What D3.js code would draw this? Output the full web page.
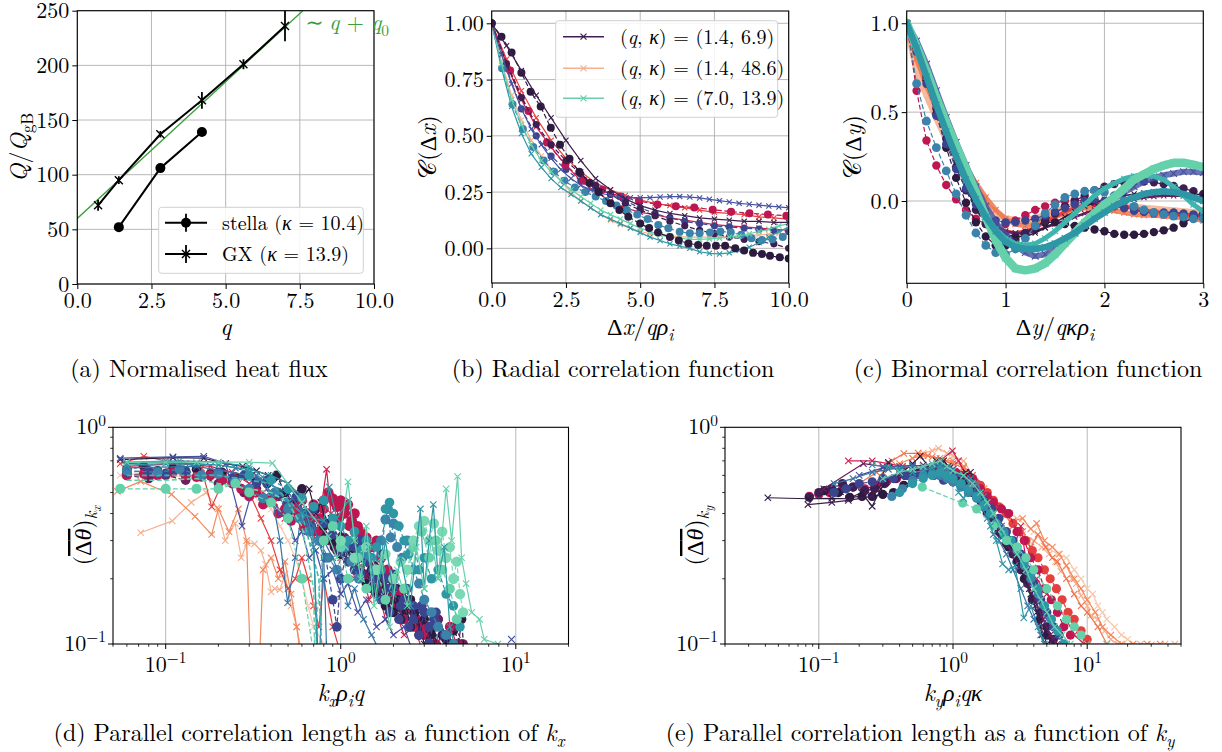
<!DOCTYPE html>
<html><head><meta charset="utf-8">
<script src="https://cdn.jsdelivr.net/npm/d3@7"></script>
<style>
body{margin:0;background:#fff;}
svg{display:block;background:#fff;}
</style></head><body>
<svg id="fig" width="1222" height="752"></svg>
<script>
// ================= DATA =================
// (a) heat flux
const qStella = [1.4, 2.8, 4.2];
const QStella = [52, 106, 139];
const errStella = [1.5, 1.5, 1.5];
const qGX = [0.7, 1.4, 2.8, 4.2, 5.6, 7.0];
const QGX = [72, 95, 137, 168, 201, 236];
const errGX = [5, 3.5, 3, 7.6, 4.5, 14];
const fitQ = [0, 7.6];
const fitVal = [60, 250];
const aXTicks = [0, 2.5, 5, 7.5, 10];
const aYTicks = [0, 50, 100, 150, 200, 250];

// (b) radial correlation function
const bX05 = [0,0.5,1,1.5,2,2.5,3,3.5,4,4.5,5,5.5,6,6.5,7,7.5,8,8.5,9,9.5,10];
const bX33 = [0,0.33,0.67,1,1.33,1.67,2,2.33,2.67,3,3.33,3.67,4,4.33,4.67,5,5.33,5.67,6,6.33,6.67,7,7.33,7.67,8,8.33,8.67,9,9.33,9.67,10];
const bGxDark = [1.0,0.9,0.79,0.68,0.58,0.48,0.39,0.31,0.26,0.22,0.19,0.17,0.155,0.145,0.135,0.13,0.125,0.12,0.12,0.115,0.115];
const bStDarkX = [0,0.33,0.67,1.0,1.31,1.65,1.99,2.3,2.62,2.95,3.3,3.6,4.0,4.3,4.6,5.0,5.3,5.6,6.0,6.3,6.62,6.95,7.24,7.55,7.86,8.2,8.5,8.8,9.1,9.37,9.7,10.0];
const bStDark = [1.0,0.94,0.87,0.78,0.696,0.63,0.536,0.46,0.398,0.34,0.29,0.25,0.2,0.17,0.14,0.11,0.09,0.07,0.05,0.035,0.022,0.015,0.012,0.012,0.012,0.0,-0.01,-0.02,-0.025,-0.033,-0.04,-0.045];
const bStDark2 = [1.0,0.82,0.67,0.55,0.46,0.39,0.33,0.28,0.24,0.2,0.17,0.145,0.12,0.1,0.08,0.065,0.05,0.04,0.03,0.02,0.0];
const bGxNavy = [1.0,0.86,0.73,0.62,0.53,0.46,0.4,0.35,0.31,0.28,0.26,0.245,0.235,0.23,0.225,0.225,0.225,0.228,0.23,0.23,0.228,0.224,0.218,0.212,0.206,0.2,0.196,0.192,0.188,0.184,0.18];
const bStCrimsonX = [0,0.62,1.24,1.86,2.48,3.1,3.72,4.34,4.96,5.58,6.2,6.82,7.44,8.06,8.68,9.3,9.92];
const bStCrimson = [1.0,0.79,0.61,0.47,0.37,0.3,0.26,0.23,0.21,0.195,0.187,0.181,0.172,0.163,0.156,0.15,0.145];
const bGxRed = [1.0,0.84,0.7,0.58,0.48,0.4,0.34,0.29,0.26,0.235,0.215,0.2,0.19,0.18,0.17,0.16,0.155,0.15,0.14,0.135,0.13];
const bGxCrimson = [1.0,0.82,0.66,0.54,0.45,0.37,0.3,0.25,0.21,0.18,0.16,0.15,0.135,0.125,0.115,0.105,0.1,0.095,0.09,0.085,0.08];
const bGxPeach = [1.0,0.83,0.68,0.57,0.48,0.41,0.35,0.3,0.25,0.21,0.18,0.15,0.125,0.105,0.09,0.075,0.065,0.06,0.055,0.052,0.05,0.05,0.05,0.05,0.052,0.055,0.058,0.06,0.062,0.065,0.068];
const bGxMint = [1.0,0.82,0.66,0.55,0.46,0.39,0.34,0.3,0.26,0.23,0.2,0.17,0.15,0.13,0.11,0.09,0.075,0.06,0.05,0.045,0.04,0.04,0.042,0.045,0.05,0.055,0.065,0.075,0.085,0.1,0.11];
const bGxTeal = [1.0,0.8,0.63,0.51,0.42,0.36,0.31,0.27,0.24,0.21,0.18,0.15,0.13,0.11,0.09,0.07,0.05,0.035,0.02,0.01,0.0,-0.015,-0.022,-0.025,-0.02,-0.01,0.005,0.025,0.05,0.075,0.095];
const bStSteelX = [0,0.35,0.7,1.05,1.4,1.75,2.1,2.45,2.8,3.15,3.5,3.85,4.2,4.55,4.9,5.25,5.61,5.95,6.33,6.67,7.0,7.35,7.7,8.05,8.4,8.75,9.1,9.45,9.8];
const bStSteel = [1.0,0.8,0.64,0.53,0.45,0.39,0.34,0.3,0.27,0.25,0.23,0.21,0.19,0.17,0.15,0.13,0.104,0.089,0.074,0.067,0.067,0.07,0.075,0.072,0.06,0.045,0.037,0.04,0.05];
const bStNavy = [1.0,0.8,0.62,0.5,0.41,0.35,0.3,0.27,0.24,0.21,0.18,0.155,0.135,0.12,0.11,0.1,0.095,0.09,0.085,0.08,0.075];
const bXTicks = [0, 2.5, 5, 7.5, 10];
const bYTicks = [0, 0.25, 0.5, 0.75, 1.0];
const bLegend = ["(1.4, 6.9)", "(1.4, 48.6)", "(7.0, 13.9)"];

// (c) binormal correlation function
const cX = [0,0.1,0.2,0.3,0.4,0.5,0.6,0.7,0.8,0.9,1.0,1.1,1.2,1.3,1.4,1.5,1.6,1.7,1.8,1.9,2.0,2.1,2.2,2.3,2.4,2.5,2.6,2.7,2.8,2.9,3.0];
const cMint = [1.0,0.87,0.73,0.58,0.44,0.31,0.18,0.05,-0.09,-0.22,-0.32,-0.38,-0.39,-0.38,-0.35,-0.3,-0.24,-0.18,-0.12,-0.07,-0.02,0.02,0.07,0.12,0.15,0.18,0.2,0.215,0.215,0.205,0.19];
const cTeal = [1.0,0.86,0.7,0.54,0.39,0.25,0.12,0.01,-0.09,-0.17,-0.23,-0.26,-0.27,-0.27,-0.26,-0.24,-0.21,-0.18,-0.14,-0.1,-0.065,-0.03,0.0,0.02,0.04,0.05,0.055,0.05,0.04,0.02,0.0];
const cTeal2 = [1.0,0.87,0.72,0.56,0.41,0.27,0.14,0.02,-0.08,-0.16,-0.21,-0.24,-0.25,-0.24,-0.21,-0.17,-0.12,-0.07,-0.02,0.03,0.07,0.1,0.125,0.14,0.145,0.14,0.12,0.08,0.03,-0.02,-0.06];
const cNavy = [1.0,0.9,0.77,0.62,0.47,0.33,0.2,0.08,-0.03,-0.12,-0.19,-0.25,-0.29,-0.31,-0.3,-0.27,-0.23,-0.18,-0.13,-0.08,-0.03,0.01,0.05,0.08,0.11,0.13,0.145,0.155,0.165,0.165,0.16];
const cDarkGx = [1.0,0.88,0.72,0.55,0.38,0.22,0.08,-0.04,-0.12,-0.17,-0.19,-0.2,-0.2,-0.18,-0.15,-0.12,-0.09,-0.06,-0.03,-0.01,0.01,0.02,0.03,0.04,0.045,0.05,0.05,0.05,0.045,0.04,0.035];
const cDarkSt1 = [1.0,0.86,0.68,0.49,0.3,0.13,-0.01,-0.12,-0.2,-0.25,-0.25,-0.22,-0.18,-0.14,-0.12,-0.12,-0.13,-0.14,-0.15,-0.16,-0.17,-0.185,-0.19,-0.19,-0.185,-0.175,-0.165,-0.15,-0.125,-0.09,-0.06];
const cDarkSt2 = [1.0,0.87,0.7,0.52,0.35,0.19,0.06,-0.05,-0.13,-0.18,-0.2,-0.2,-0.18,-0.15,-0.11,-0.07,-0.03,0.0,0.03,0.06,0.08,0.095,0.105,0.11,0.11,0.105,0.095,0.085,0.07,0.055,0.04];
const cCrimsonSt = [1.0,0.62,0.34,0.2,0.09,0.01,-0.05,-0.1,-0.13,-0.14,-0.13,-0.11,-0.08,-0.05,-0.03,-0.01,0.0,0.005,0.0,-0.01,-0.02,-0.03,-0.04,-0.05,-0.06,-0.07,-0.075,-0.08,-0.085,-0.09,-0.09];
const cSteelSt = [1.0,0.66,0.45,0.3,0.17,0.04,-0.08,-0.18,-0.25,-0.29,-0.3,-0.27,-0.21,-0.14,-0.07,-0.02,0.02,0.04,0.055,0.06,0.05,0.03,0.0,-0.03,-0.05,-0.065,-0.075,-0.085,-0.09,-0.1,-0.1];
const cNavySt = [1.0,0.84,0.66,0.48,0.32,0.18,0.07,-0.02,-0.08,-0.11,-0.12,-0.12,-0.11,-0.1,-0.08,-0.06,-0.04,-0.02,0.0,0.01,0.0,-0.02,-0.04,-0.055,-0.06,-0.065,-0.065,-0.065,-0.07,-0.075,-0.08];
const cPeachGx = [1.0,0.74,0.6,0.47,0.35,0.24,0.14,0.05,-0.02,-0.07,-0.1,-0.11,-0.11,-0.1,-0.08,-0.06,-0.04,-0.03,-0.02,-0.02,-0.02,-0.025,-0.03,-0.035,-0.04,-0.045,-0.05,-0.055,-0.06,-0.065,-0.07];
const cOrangeGx = [1.0,0.8,0.65,0.52,0.4,0.29,0.19,0.1,0.02,-0.05,-0.1,-0.13,-0.14,-0.13,-0.11,-0.09,-0.07,-0.05,-0.04,-0.04,-0.045,-0.055,-0.065,-0.075,-0.08,-0.08,-0.085,-0.09,-0.095,-0.1,-0.11];
const cRedGx = [1.0,0.85,0.68,0.52,0.37,0.23,0.11,0.0,-0.08,-0.14,-0.17,-0.18,-0.17,-0.15,-0.12,-0.09,-0.06,-0.04,-0.02,-0.01,-0.01,-0.02,-0.03,-0.04,-0.05,-0.06,-0.065,-0.07,-0.075,-0.08,-0.08];
const cPlumGx = [1.0,0.88,0.72,0.55,0.39,0.24,0.1,-0.01,-0.09,-0.14,-0.17,-0.18,-0.18,-0.17,-0.15,-0.13,-0.11,-0.09,-0.07,-0.05,-0.03,-0.01,0.0,0.01,0.02,0.025,0.03,0.03,0.03,0.025,0.02];
const cXTicks = [0, 1, 2, 3];
const cYTicks = [0, 0.5, 1.0];

// (d) parallel correlation length vs kx  ([k, value] pairs)
const dDarkGx = [[0.055,0.71],[0.11,0.725],[0.165,0.72],[0.22,0.68],[0.275,0.66],[0.33,0.63],[0.385,0.6],[0.44,0.58],[0.5,0.55],[0.55,0.5],[0.6,0.47],[0.66,0.52],[0.72,0.4],[0.77,0.45],[0.83,0.35],[0.88,0.38],[0.94,0.3],[1.0,0.33],[1.1,0.26],[1.2,0.3],[1.3,0.22],[1.4,0.25],[1.5,0.19],[1.65,0.23],[1.8,0.17],[1.95,0.2],[2.1,0.14],[2.3,0.17],[2.5,0.12],[2.7,0.14],[3.0,0.1],[3.3,0.12],[3.6,0.08]];
const dDarkSt = [[0.06,0.64],[0.075,0.66],[0.09,0.63],[0.11,0.65],[0.13,0.62],[0.15,0.64],[0.18,0.61],[0.21,0.62],[0.25,0.59],[0.29,0.6],[0.33,0.56],[0.38,0.55],[0.43,0.6],[0.48,0.5],[0.54,0.45],[0.6,0.52],[0.66,0.38],[0.72,0.42],[0.78,0.32],[0.85,0.36],[0.92,0.28],[1.0,0.3],[1.1,0.24],[1.2,0.27],[1.32,0.21],[1.45,0.24],[1.6,0.18],[1.75,0.21],[1.9,0.16],[2.1,0.18],[2.3,0.14],[2.5,0.16],[2.75,0.12],[3.0,0.14],[3.3,0.11],[3.6,0.13],[4.0,0.105],[4.4,0.115],[4.9,0.1]];
const dDark2St = [[0.8,0.35],[0.9,0.3],[1.0,0.26],[1.1,0.3],[1.2,0.22],[1.3,0.25],[1.4,0.19],[1.5,0.22],[1.6,0.17],[1.7,0.2],[1.8,0.15],[1.9,0.18],[2.0,0.14],[2.1,0.16],[2.2,0.13],[2.35,0.15],[2.5,0.12],[2.65,0.14],[2.8,0.11],[3.0,0.13],[3.2,0.1],[3.4,0.12],[3.6,0.09],[3.8,0.11],[4.0,0.08],[4.3,0.1],[4.6,0.085],[4.9,0.13],[5.2,0.07]];
const dPlumSt = [[0.06,0.6],[0.08,0.58],[0.1,0.6],[0.13,0.57],[0.16,0.59],[0.2,0.55],[0.24,0.56],[0.28,0.5],[0.33,0.52],[0.38,0.46],[0.44,0.48],[0.5,0.4],[0.56,0.43],[0.62,0.36],[0.7,0.33],[0.78,0.38],[0.86,0.3],[0.95,0.27],[1.05,0.31],[1.15,0.24],[1.27,0.27],[1.4,0.21],[1.55,0.23],[1.7,0.18],[1.9,0.2],[2.1,0.16],[2.35,0.18],[2.6,0.14],[2.9,0.15],[3.2,0.12],[3.6,0.13],[4.0,0.11],[4.5,0.12],[5.0,0.1]];
const dCrimsonSt = [[0.06,0.6],[0.075,0.61],[0.09,0.6],[0.11,0.62],[0.13,0.6],[0.15,0.59],[0.18,0.6],[0.21,0.57],[0.24,0.55],[0.27,0.52],[0.3,0.48],[0.33,0.5],[0.36,0.44],[0.4,0.46],[0.44,0.4],[0.48,0.42],[0.52,0.37],[0.57,0.4],[0.62,0.35],[0.68,0.38],[0.74,0.33],[0.8,0.42],[0.86,0.48],[0.92,0.45],[0.98,0.38],[1.05,0.42],[1.12,0.35],[1.2,0.33],[1.28,0.3],[1.38,0.27],[1.48,0.25],[1.6,0.22],[1.75,0.2],[1.9,0.17],[2.1,0.15],[2.3,0.13],[2.6,0.12],[3.0,0.11],[3.5,0.1],[4.2,0.12],[4.6,0.1]];
const dCrimson2St = [[0.5,0.45],[0.55,0.42],[0.6,0.46],[0.65,0.4],[0.7,0.44],[0.75,0.38],[0.8,0.46],[0.85,0.5],[0.9,0.47],[0.95,0.43],[1.0,0.46],[1.05,0.4],[1.1,0.44],[1.15,0.37],[1.2,0.4],[1.25,0.35],[1.3,0.33],[1.4,0.31],[1.5,0.28],[1.6,0.3],[1.7,0.25],[1.85,0.22],[2.0,0.2],[2.2,0.17],[2.4,0.15],[2.7,0.13],[3.0,0.12]];
const dCrimsonGx = [[0.06,0.66],[0.12,0.68],[0.18,0.66],[0.24,0.62],[0.3,0.55],[0.36,0.5],[0.42,0.45],[0.48,0.38],[0.54,0.42],[0.6,0.33],[0.66,0.36],[0.72,0.3],[0.78,0.45],[0.83,0.64],[0.88,0.4],[0.94,0.3],[1.0,0.25],[1.1,0.3],[1.2,0.2],[1.3,0.23],[1.45,0.16],[1.6,0.19],[1.8,0.13],[2.0,0.15],[2.3,0.11],[2.6,0.12],[3.0,0.09]];
const dRedGx = [[0.055,0.68],[0.075,0.735],[0.1,0.7],[0.13,0.68],[0.16,0.65],[0.183,0.43],[0.22,0.6],[0.26,0.55],[0.3,0.5],[0.35,0.38],[0.4,0.3],[0.45,0.22],[0.5,0.18],[0.55,0.2],[0.6,0.25],[0.65,0.2],[0.7,0.15],[0.75,0.12],[0.8,0.2],[0.9,0.12],[1.0,0.09]];
const dOrangeGx = [[0.053,0.506],[0.072,0.563],[0.108,0.49],[0.147,0.388],[0.183,0.32],[0.2,0.42],[0.23,0.33],[0.26,0.42],[0.29,0.3],[0.31,0.05],[0.335,0.05],[0.36,0.22],[0.4,0.25],[0.44,0.2],[0.48,0.24],[0.52,0.17],[0.56,0.12],[0.6,0.08]];
const dPeachGx = [[0.072,0.326],[0.109,0.37],[0.14,0.45],[0.17,0.5],[0.196,0.425],[0.219,0.3],[0.249,0.36],[0.27,0.25],[0.292,0.293],[0.322,0.29],[0.35,0.27],[0.372,0.233],[0.4,0.174],[0.42,0.18],[0.45,0.178],[0.48,0.21],[0.52,0.15],[0.56,0.12],[0.6,0.09]];
const dPeach2Gx = [[0.055,0.6],[0.08,0.62],[0.11,0.6],[0.15,0.58],[0.2,0.6],[0.25,0.55],[0.3,0.5],[0.35,0.45],[0.4,0.42],[0.45,0.35],[0.5,0.3],[0.55,0.25],[0.6,0.2],[0.65,0.15],[0.7,0.12],[0.8,0.1],[0.9,0.09]];
const dNavyGx = [[0.055,0.72],[0.11,0.73],[0.165,0.735],[0.22,0.68],[0.273,0.35],[0.33,0.6],[0.39,0.5],[0.45,0.4],[0.5,0.38],[0.55,0.3],[0.6,0.33],[0.66,0.25],[0.72,0.27],[0.8,0.2],[0.9,0.22],[1.0,0.17],[1.1,0.19],[1.25,0.14],[1.4,0.16],[1.6,0.12],[1.8,0.13],[2.0,0.11],[2.3,0.12],[2.6,0.09]];
const dNavyTail = [[9.45,0.105]];
const dNavySt = [[0.06,0.62],[0.08,0.63],[0.1,0.61],[0.13,0.63],[0.16,0.6],[0.2,0.62],[0.24,0.58],[0.28,0.6],[0.33,0.55],[0.38,0.57],[0.44,0.5],[0.5,0.45],[0.56,0.48],[0.62,0.4],[0.68,0.35],[0.75,0.3],[0.82,0.25],[0.9,0.16],[0.95,0.12],[1.0,0.2],[1.1,0.28],[1.2,0.22],[1.3,0.3],[1.42,0.24],[1.55,0.2],[1.7,0.26],[1.85,0.18],[2.0,0.21],[2.2,0.15],[2.4,0.18],[2.6,0.13],[2.9,0.15],[3.2,0.12],[3.5,0.14],[3.9,0.11]];
const dNavy2St = [[0.7,0.42],[0.8,0.36],[0.9,0.32],[1.0,0.27],[1.1,0.24],[1.2,0.28],[1.3,0.21],[1.4,0.25],[1.5,0.18],[1.6,0.22],[1.7,0.16],[1.8,0.2],[1.9,0.14],[2.0,0.18],[2.15,0.13],[2.3,0.16],[2.45,0.12],[2.6,0.15],[2.8,0.11],[3.0,0.14],[3.2,0.1],[3.4,0.13],[3.7,0.09],[4.0,0.11],[4.3,0.08]];
const dSteelGx = [[0.06,0.68],[0.1,0.69],[0.15,0.68],[0.2,0.67],[0.25,0.65],[0.3,0.62],[0.35,0.58],[0.4,0.5],[0.45,0.3],[0.497,0.155],[0.55,0.25],[0.6,0.42],[0.65,0.35],[0.7,0.28],[0.75,0.07],[0.8,0.3],[0.9,0.25],[1.0,0.2],[1.1,0.15],[1.2,0.18],[1.35,0.13],[1.5,0.11],[1.7,0.09]];
const dSteel2Gx = [[0.06,0.65],[0.15,0.66],[0.3,0.6],[0.5,0.5],[0.7,0.35],[0.8,0.25],[0.85,0.05]];
const dSteelSt = [[0.06,0.63],[0.09,0.62],[0.12,0.64],[0.16,0.6],[0.2,0.61],[0.25,0.56],[0.3,0.52],[0.36,0.47],[0.42,0.5],[0.5,0.42],[0.58,0.38],[0.66,0.33],[0.75,0.3],[0.85,0.25],[0.95,0.22],[1.05,0.28],[1.15,0.24],[1.27,0.2],[1.4,0.26],[1.55,0.22],[1.7,0.3],[1.8,0.375],[1.86,0.42],[1.93,0.31],[2.0,0.36],[2.1,0.28],[2.25,0.25],[2.4,0.3],[2.6,0.22],[2.8,0.19],[3.0,0.16],[3.3,0.14],[3.6,0.12],[4.0,0.11],[4.4,0.1]];
const dTealSt = [[0.3,0.6],[0.4,0.57],[0.5,0.52],[0.6,0.47],[0.7,0.43],[0.8,0.46],[0.9,0.38],[1.0,0.35],[1.1,0.3],[1.2,0.33],[1.3,0.27],[1.4,0.3],[1.5,0.25],[1.6,0.28],[1.7,0.22],[1.8,0.42],[1.9,0.45],[2.0,0.4],[2.15,0.35],[2.3,0.3],[2.45,0.26],[2.6,0.3],[2.8,0.22],[3.0,0.25],[3.3,0.2],[3.6,0.22],[4.0,0.17],[4.4,0.15],[4.8,0.12]];
const dTealGx = [[0.06,0.69],[0.12,0.7],[0.2,0.69],[0.3,0.66],[0.4,0.55],[0.5,0.45],[0.6,0.4],[0.7,0.38],[0.8,0.37],[0.86,0.53],[0.95,0.38],[1.11,0.46],[1.2,0.32],[1.3,0.2],[1.45,0.28],[1.6,0.16],[1.8,0.3],[2.0,0.17],[2.2,0.25],[2.5,0.15],[2.85,0.42],[3.0,0.18],[3.2,0.3],[3.38,0.44],[3.6,0.2],[3.9,0.28],[4.2,0.12],[4.6,0.09]];
const dTeal2Gx = [[0.06,0.67],[0.1,0.68],[0.2,0.67],[0.3,0.64],[0.4,0.6],[0.5,0.55],[0.6,0.48],[0.7,0.3],[0.75,0.05]];
const dMintGx = [[0.06,0.69],[0.1,0.69],[0.15,0.69],[0.2,0.69],[0.3,0.69],[0.407,0.683],[0.6,0.45],[0.85,0.314],[0.95,0.25],[1.1,0.56],[1.2,0.3],[1.3,0.2],[1.4,0.35],[1.55,0.15],[1.7,0.25],[1.9,0.12],[2.1,0.22],[2.4,0.15],[2.7,0.28],[3.0,0.18],[3.3,0.3],[3.6,0.2],[4.0,0.52],[4.3,0.3],[4.65,0.593],[4.9,0.25],[5.2,0.19],[5.6,0.14],[6.2,0.13],[6.6,0.105],[7.9,0.1],[8.5,0.095]];
const dMintSt = [[0.055,0.52],[0.1,0.52],[0.15,0.52],[0.2,0.52],[0.25,0.55],[0.3,0.5],[0.4,0.45],[0.5,0.38],[0.6,0.2],[0.7,0.09],[0.8,0.3],[0.9,0.35],[1.0,0.28],[1.1,0.2],[1.25,0.25],[1.4,0.18],[1.6,0.22],[1.8,0.16],[2.0,0.2],[2.3,0.18],[2.6,0.28],[2.9,0.33],[3.2,0.25],[3.5,0.3],[3.8,0.22],[4.2,0.18],[4.6,0.13]];
const dMint2St = [[1.0,0.3],[1.2,0.25],[1.4,0.28],[1.6,0.22],[1.8,0.26],[2.0,0.2],[2.2,0.24],[2.4,0.22],[2.6,0.3],[2.8,0.35],[3.0,0.37],[3.2,0.3],[3.4,0.36],[3.6,0.27],[3.8,0.33],[4.0,0.25],[4.2,0.28],[4.4,0.2],[4.6,0.24],[4.8,0.17],[5.0,0.14]];
const dMint3Dash = [[0.06,0.57],[0.1,0.57],[0.15,0.58],[0.2,0.55],[0.3,0.52],[0.4,0.5],[0.5,0.45],[0.6,0.35],[0.7,0.18],[0.72,0.05]];
const dTeal3Dash = [[0.06,0.6],[0.2,0.6],[0.4,0.55],[0.6,0.4],[0.75,0.2],[0.8,0.05]];

// (e) parallel correlation length vs ky  ([k, value] pairs)
const eDarkGx = [[0.0417,0.473],[0.0833,0.468],[0.125,0.47],[0.166,0.468],[0.208,0.5],[0.25,0.432],[0.29,0.52],[0.33,0.58],[0.42,0.62],[0.5,0.68],[0.57,0.736],[0.66,0.66],[0.75,0.7],[0.83,0.68],[0.92,0.66],[1.0,0.64],[1.1,0.6],[1.25,0.62],[1.4,0.55],[1.6,0.5],[1.8,0.45],[2.0,0.4],[2.3,0.34],[2.6,0.3],[3.0,0.25],[3.4,0.2],[3.8,0.17],[4.2,0.14],[4.6,0.11],[5.0,0.09]];
const eDark2Gx = [[0.083,0.44],[0.125,0.45],[0.166,0.46],[0.25,0.48],[0.33,0.69],[0.42,0.6],[0.5,0.62],[0.58,0.6],[0.67,0.64],[0.75,0.66],[0.85,0.7],[0.95,0.65],[1.05,0.6],[1.2,0.58],[1.35,0.62],[1.5,0.5],[1.7,0.46],[1.9,0.4],[2.2,0.36],[2.5,0.3],[2.9,0.26],[3.3,0.22],[3.7,0.18],[4.1,0.15],[4.5,0.12],[5.0,0.1]];
const eDarkSt = [[0.11,0.51],[0.14,0.5],[0.17,0.475],[0.21,0.48],[0.25,0.48],[0.3,0.49],[0.36,0.5],[0.43,0.54],[0.5,0.57],[0.6,0.6],[0.7,0.62],[0.8,0.6],[0.9,0.58],[1.0,0.56],[1.2,0.55],[1.4,0.5],[1.6,0.46],[1.8,0.4],[2.0,0.37],[2.3,0.32],[2.6,0.28],[3.0,0.24],[3.4,0.2],[3.9,0.16],[4.4,0.13],[5.0,0.11],[5.6,0.09]];
const eDark2St = [[0.085,0.475],[0.1,0.5],[0.125,0.52],[0.15,0.55],[0.18,0.53],[0.22,0.51],[0.26,0.52],[0.31,0.55],[0.37,0.58],[0.44,0.6],[0.52,0.63],[0.62,0.62],[0.72,0.63],[0.85,0.6],[1.0,0.58],[1.15,0.56],[1.3,0.52],[1.5,0.48],[1.7,0.43],[1.95,0.38],[2.2,0.33],[2.5,0.29],[2.8,0.26],[3.2,0.22],[3.6,0.19],[4.0,0.16],[4.5,0.14],[5.0,0.12],[5.6,0.105]];
const ePlumGx = [[0.109,0.52],[0.215,0.68],[0.3,0.66],[0.4,0.64],[0.5,0.66],[0.6,0.67],[0.7,0.65],[0.8,0.64],[0.9,0.62],[1.0,0.6],[1.15,0.57],[1.3,0.53],[1.5,0.48],[1.75,0.42],[2.0,0.37],[2.3,0.32],[2.7,0.27],[3.1,0.23],[3.6,0.19],[4.1,0.16],[4.7,0.13],[5.3,0.11],[6.0,0.1]];
const eCrimsonGx = [[0.166,0.70],[0.25,0.7],[0.33,0.68],[0.42,0.66],[0.5,0.65],[0.6,0.64],[0.7,0.66],[0.8,0.7],[0.99,0.779],[1.1,0.7],[1.25,0.6],[1.4,0.52],[1.6,0.45],[1.8,0.4],[2.1,0.35],[2.4,0.3],[2.8,0.27],[3.2,0.35],[3.6,0.22],[4.2,0.2],[5.0,0.17],[6.0,0.15],[7.0,0.13],[8.0,0.11],[9.5,0.1]];
const eCrimsonSt = [[0.085,0.48],[0.1,0.49],[0.12,0.5],[0.15,0.52],[0.18,0.53],[0.22,0.52],[0.27,0.54],[0.32,0.56],[0.38,0.58],[0.45,0.6],[0.55,0.62],[0.65,0.63],[0.75,0.64],[0.9,0.62],[1.05,0.62],[1.2,0.6],[1.4,0.58],[1.6,0.52],[1.8,0.48],[2.0,0.45],[2.3,0.42],[2.6,0.4],[3.0,0.33],[3.4,0.3],[3.8,0.25],[4.3,0.22],[4.8,0.18],[5.4,0.16],[6.0,0.14],[6.7,0.12],[7.5,0.11]];
const eRedSt = [[0.5,0.6],[0.6,0.63],[0.7,0.62],[0.85,0.64],[1.0,0.62],[1.15,0.6],[1.3,0.58],[1.45,0.56],[1.6,0.54],[1.8,0.5],[2.0,0.46],[2.2,0.43],[2.5,0.4],[2.8,0.36],[3.1,0.33],[3.5,0.3],[3.9,0.27],[4.3,0.25],[4.8,0.22],[5.3,0.2],[5.9,0.18],[6.5,0.16],[7.2,0.14],[8.0,0.13],[9.0,0.115],[10,0.105]];
const eOrangeGx = [[0.2,0.55],[0.27,0.62],[0.35,0.7],[0.43,0.757],[0.55,0.76],[0.65,0.74],[0.75,0.72],[0.85,0.7],[1.0,0.68],[1.2,0.65],[1.4,0.6],[1.7,0.5],[2.0,0.45],[2.4,0.4],[2.8,0.35],[3.3,0.33],[3.8,0.28],[4.3,0.32],[4.9,0.28],[5.5,0.25],[6.0,0.24],[7.0,0.2],[8.0,0.17],[9.0,0.15],[10,0.14],[12,0.12],[14,0.1]];
const eSalmonGx = [[0.3,0.62],[0.4,0.68],[0.5,0.72],[0.6,0.74],[0.7,0.73],[0.8,0.72],[0.9,0.7],[1.0,0.7],[1.2,0.66],[1.4,0.6],[1.7,0.52],[2.0,0.46],[2.4,0.4],[2.8,0.37],[3.3,0.38],[3.8,0.34],[4.2,0.36],[4.8,0.3],[5.5,0.28],[6.2,0.26],[7.0,0.23],[8.0,0.2],[9.0,0.18],[10,0.16],[11.5,0.14],[13,0.12],[15,0.11],[18,0.1],[22,0.1],[28,0.1],[35,0.1]];
const ePeachGx = [[0.5,0.72],[0.6,0.76],[0.7,0.78],[0.78,0.8],[0.9,0.76],[1.0,0.74],[1.2,0.7],[1.4,0.6],[1.7,0.52],[2.0,0.46],[2.4,0.4],[2.8,0.36],[3.3,0.32],[4,0.3],[4.6,0.28],[5.2,0.26],[5.8,0.24],[6.35,0.216],[7,0.23],[7.7,0.2],[8.3,0.19],[9,0.167],[10,0.15],[10.6,0.135],[12,0.13],[13.5,0.115],[15,0.105],[17,0.1],[20,0.098],[25,0.1],[30,0.099],[38,0.1],[45,0.1]];
const ePeach2Gx = [[2,0.45],[3,0.38],[4,0.33],[5,0.28],[6,0.26],[7,0.25],[8,0.22],[9,0.2],[10,0.18],[11,0.17],[12,0.15],[13,0.14],[14,0.13],[16,0.12],[18,0.11],[20,0.105],[22,0.1]];
const eNavyGx = [[0.2,0.6],[0.3,0.65],[0.4,0.66],[0.5,0.67],[0.6,0.66],[0.7,0.68],[0.8,0.67],[0.9,0.65],[1.0,0.62],[1.2,0.6],[1.4,0.56],[1.6,0.5],[1.8,0.45],[2.0,0.4],[2.3,0.35],[2.6,0.3],[3,0.26],[3.5,0.22],[4,0.18],[4.5,0.15],[5,0.13],[5.5,0.12],[6,0.11],[7,0.1]];
const eNavySt = [[0.13,0.5],[0.16,0.52],[0.2,0.55],[0.25,0.56],[0.3,0.58],[0.36,0.58],[0.44,0.6],[0.52,0.6],[0.62,0.61],[0.72,0.6],[0.85,0.57],[1.0,0.56],[1.15,0.55],[1.3,0.52],[1.5,0.5],[1.7,0.46],[1.95,0.42],[2.2,0.38],[2.5,0.33],[2.8,0.3],[3.2,0.26],[3.6,0.22],[4,0.19],[4.5,0.16],[5,0.14],[5.6,0.12],[6.2,0.11]];
const eSteelGx = [[0.13,0.55],[0.18,0.58],[0.25,0.62],[0.33,0.64],[0.42,0.65],[0.5,0.66],[0.6,0.64],[0.7,0.66],[0.8,0.68],[0.9,0.66],[1.0,0.64],[1.1,0.6],[1.25,0.58],[1.4,0.5],[1.6,0.44],[1.8,0.38],[2.0,0.32],[2.2,0.3],[2.5,0.26],[2.8,0.22],[3.2,0.18],[3.6,0.15],[4.0,0.13],[4.5,0.11],[5.0,0.09]];
const eSteelSt = [[0.35,0.48],[0.42,0.52],[0.5,0.57],[0.6,0.6],[0.7,0.61],[0.8,0.6],[0.9,0.58],[1.0,0.56],[1.15,0.53],[1.3,0.5],[1.5,0.47],[1.7,0.43],[1.9,0.4],[2.1,0.36],[2.4,0.33],[2.7,0.3],[3.0,0.27],[3.4,0.23],[3.8,0.2],[4.3,0.17],[4.8,0.15],[5.4,0.13],[6.0,0.115],[6.7,0.1]];
const eTealSt = [[0.4,0.5],[0.5,0.55],[0.6,0.58],[0.7,0.6],[0.8,0.62],[0.9,0.6],[1.0,0.58],[1.15,0.55],[1.3,0.52],[1.5,0.48],[1.7,0.44],[1.9,0.4],[2.1,0.36],[2.4,0.32],[2.7,0.3],[3.0,0.28],[3.4,0.24],[3.8,0.21],[4.3,0.18],[4.8,0.15],[5.4,0.13],[6.0,0.115],[6.7,0.1]];
const eTealGx = [[0.25,0.67],[0.33,0.66],[0.4,0.64],[0.5,0.62],[0.6,0.63],[0.7,0.65],[0.8,0.66],[0.9,0.64],[1.0,0.6],[1.1,0.5],[1.2,0.47],[1.35,0.58],[1.5,0.55],[1.7,0.48],[1.9,0.35],[2.1,0.3],[2.34,0.234],[2.6,0.22],[2.9,0.23],[3.37,0.132],[3.8,0.15],[4.3,0.12],[4.8,0.1],[5.3,0.09]];
const eMintGx = [[0.3,0.58],[0.4,0.62],[0.5,0.64],[0.6,0.66],[0.7,0.68],[0.8,0.7],[0.9,0.66],[1.0,0.63],[1.2,0.6],[1.4,0.55],[1.6,0.5],[1.8,0.45],[2.0,0.4],[2.3,0.34],[2.6,0.3],[3,0.26],[3.5,0.22],[4,0.18],[4.5,0.16],[5,0.14],[5.7,0.12],[6.5,0.11],[7.5,0.1],[10,0.1],[14,0.1]];
const eMintSt = [[0.59,0.53],[1.18,0.447],[1.5,0.42],[2.0,0.35],[2.5,0.3],[3.0,0.28],[3.5,0.25],[4.0,0.22],[5.0,0.18],[6.0,0.15],[7.0,0.13],[8.0,0.12],[9.0,0.11]];
const logMajor = [0.1, 1, 10];
const logYMajor = [0.1, 1];

// ================= RENDER =================
const FONT = "'Latin Modern Roman', 'Liberation Serif'";
const GREEK = "'Liberation Serif', 'DejaVu Serif'";
const TICK = 22, LAB = 24, LEG = 20, CAP = 24;
const C = {dark:'#2d1b3f', dark2:'#3f1f52', plum:'#6b1f5d', crimson:'#bd1650', crimson2:'#cf1f4d', red:'#e5403e',
  orange:'#f0744c', salmon:'#f4895d', peach:'#f6b08e', peach2:'#f9c8aa', navy:'#4551a1', navy2:'#3b458f',
  steel:'#3574a6', steel2:'#3b83ab', teal:'#2e97a6', teal2:'#40b4ad', mint:'#65d1aa'};
const svg = d3.select('#fig');
const defs = svg.append('defs');
const zip = (xs, ys) => xs.map((v, i) => [v, ys[i]]);

const boxes = {
  a:{l:77.3, r:374, t:10.7, b:284},
  b:{l:491.7, r:788.7, t:11, b:283},
  c:{l:906.7, r:1203.3, t:11, b:283.3},
  d:{l:113, r:568.5, t:427.3, b:644},
  e:{l:725, r:1181, t:427.3, b:644}
};

function clip(id, bx){
  defs.append('clipPath').attr('id', id).append('rect')
    .attr('x', bx.l).attr('y', bx.t).attr('width', bx.r - bx.l).attr('height', bx.b - bx.t);
  return svg.append('g').attr('clip-path', `url(#${id})`);
}
function xMark(s){ return `M${-s},${-s}L${s},${s}M${-s},${s}L${s},${-s}`; }

function drawSeries(g, x, y, pts, st){
  if(!st.noLine){
    const p = g.append('path').attr('d', d3.line().x(d=>x(d[0])).y(d=>y(d[1]))(pts))
      .attr('fill','none').attr('stroke', st.c).attr('stroke-width', st.w || 1.2)
      .attr('stroke-linejoin','round').attr('stroke-linecap', st.band ? 'round' : 'butt');
    if(st.dash) p.attr('stroke-dasharray', st.dash);
    if(st.op) p.attr('stroke-opacity', st.op);
  }
  if(st.m === 'x'){
    g.append('g').selectAll('path').data(pts).join('path')
      .attr('transform', d => `translate(${x(d[0])},${y(d[1])})`)
      .attr('d', xMark(st.s || 3)).attr('fill','none')
      .attr('stroke', st.mc || st.c).attr('stroke-width', st.mw || 1.1);
  } else if(st.m === 'o'){
    g.append('g').selectAll('circle').data(pts).join('circle')
      .attr('cx', d => x(d[0])).attr('cy', d => y(d[1])).attr('r', st.r || 3.5).attr('fill', st.c);
  }
}

// parts: [string, flags]  i=italic, b=subscript, q=sub-subscript, p=superscript, g=greek font, o=overline
function rich(t, parts, size){
  let off = 0;
  parts.forEach(([s, st]) => {
    const sp = t.append('tspan').text(s);
    let target = 0, fs = size;
    if(st.includes('b')){ target = size * 0.25; fs = size * 0.7; }
    if(st.includes('q')){ target = size * 0.4; fs = size * 0.5; }
    if(st.includes('p')){ target = -size * 0.4; fs = size * 0.7; }
    sp.attr('font-size', fs);
    if(st.includes('g')) sp.style('font-family', GREEK);
    if(st.includes('i')) sp.style('font-style', 'italic');
    if(st.includes('o')) sp.style('text-decoration', 'overline');
    if(target !== off){ sp.attr('dy', target - off); off = target; }
  });
  return t;
}
function txt(x, y, anchor, size, rot){
  const t = svg.append('text').attr('x', x).attr('y', y).attr('text-anchor', anchor)
    .style('font-family', FONT).attr('font-size', size).attr('fill', '#000');
  if(rot) t.attr('transform', `rotate(-90,${x},${y})`);
  return t;
}

function styleAxis(ax){
  ax.attr('font-family', null).attr('font-size', null);
  ax.select('.domain').remove();
  ax.selectAll('line').attr('stroke', '#000').attr('stroke-width', 1);
  ax.selectAll('text').style('font-family', FONT).attr('font-size', TICK).attr('fill', '#000');
}

function linFrame(bx, x, y, xt, yt){
  const gg = svg.append('g');
  gg.selectAll('line.gx').data(xt).join('line').attr('x1', d=>x(d)).attr('x2', d=>x(d))
    .attr('y1', bx.t).attr('y2', bx.b).attr('stroke', '#b0b0b0').attr('stroke-width', 0.9);
  gg.selectAll('line.gy').data(yt).join('line').attr('y1', d=>y(d)).attr('y2', d=>y(d))
    .attr('x1', bx.l).attr('x2', bx.r).attr('stroke', '#b0b0b0').attr('stroke-width', 0.9);
}
function linAxes(bx, x, y, xt, yt, xf, yf){
  styleAxis(svg.append('g').attr('transform', `translate(0,${bx.b})`)
    .call(d3.axisBottom(x).tickValues(xt).tickFormat(xf).tickSize(5).tickPadding(3)));
  styleAxis(svg.append('g').attr('transform', `translate(${bx.l},0)`)
    .call(d3.axisLeft(y).tickValues(yt).tickFormat(yf).tickSize(5).tickPadding(3)));
  svg.append('rect').attr('x', bx.l).attr('y', bx.t).attr('width', bx.r - bx.l).attr('height', bx.b - bx.t)
    .attr('fill', 'none').attr('stroke', '#000').attr('stroke-width', 1.1);
}
function logFrame(bx, x){
  svg.append('g').selectAll('line').data(logMajor.filter(v => v >= x.domain()[0] && v <= x.domain()[1])).join('line')
    .attr('x1', d=>x(d)).attr('x2', d=>x(d)).attr('y1', bx.t).attr('y2', bx.b)
    .attr('stroke', '#b0b0b0').attr('stroke-width', 0.9);
}
function expText(e){ return e < 0 ? '\u2212' + (-e) : String(e); }
function logAxes(bx, x, y){
  const g = svg.append('g');
  const majors = logMajor.filter(v => v >= x.domain()[0] && v <= x.domain()[1]);
  const minors = x.ticks().filter(v => !majors.some(m => Math.abs(m - v) < 1e-9));
  g.selectAll('line.M').data(majors).join('line').attr('x1', d=>x(d)).attr('x2', d=>x(d))
    .attr('y1', bx.b).attr('y2', bx.b + 5).attr('stroke', '#000');
  g.selectAll('line.m').data(minors).join('line').attr('x1', d=>x(d)).attr('x2', d=>x(d))
    .attr('y1', bx.b).attr('y2', bx.b + 2.8).attr('stroke', '#000').attr('stroke-width', 0.8);
  const yminors = y.ticks().filter(v => !logYMajor.some(m => Math.abs(m - v) < 1e-9));
  g.selectAll('line.YM').data(logYMajor).join('line').attr('y1', d=>y(d)).attr('y2', d=>y(d))
    .attr('x1', bx.l - 5).attr('x2', bx.l).attr('stroke', '#000');
  g.selectAll('line.Ym').data(yminors).join('line').attr('y1', d=>y(d)).attr('y2', d=>y(d))
    .attr('x1', bx.l - 2.8).attr('x2', bx.l).attr('stroke', '#000').attr('stroke-width', 0.8);
  majors.forEach(v => {
    rich(txt(x(v), bx.b + 28, 'middle', TICK), [['10', ''], [expText(Math.round(Math.log10(v))), 'p']], TICK);
  });
  logYMajor.forEach(v => {
    rich(txt(bx.l - 7, y(v) + 7, 'end', TICK), [['10', ''], [expText(Math.round(Math.log10(v))), 'p']], TICK);
  });
  svg.append('rect').attr('x', bx.l).attr('y', bx.t).attr('width', bx.r - bx.l).attr('height', bx.b - bx.t)
    .attr('fill', 'none').attr('stroke', '#000').attr('stroke-width', 1.1);
}

function legendBox(x0, y0, w, h){
  svg.append('rect').attr('x', x0).attr('y', y0).attr('width', w).attr('height', h).attr('rx', 3)
    .attr('fill', '#fff').attr('fill-opacity', 0.85).attr('stroke', '#d0d0d0').attr('stroke-width', 1);
}

// ---------- (a) ----------
(function(){
  const bx = boxes.a;
  const x = d3.scaleLinear().domain([0, 10]).range([bx.l, bx.r]);
  const y = d3.scaleLinear().domain([0, 250]).range([bx.b, bx.t]);
  linFrame(bx, x, y, aXTicks, aYTicks);
  const g = clip('clipA', bx);
  drawSeries(g, x, y, zip(fitQ, fitVal), {c:'#3a9e3a', w:1.3});
  drawSeries(g, x, y, zip(qStella, QStella), {c:'#000', w:2, m:'o', r:5});
  g.selectAll('line.es').data(qStella).join('line').attr('x1', d=>x(d)).attr('x2', d=>x(d))
    .attr('y1', (d,i)=>y(QStella[i]-errStella[i])).attr('y2', (d,i)=>y(QStella[i]+errStella[i]))
    .attr('stroke', '#000').attr('stroke-width', 1.8);
  drawSeries(g, x, y, zip(qGX, QGX), {c:'#000', w:2, m:'x', s:4, mw:1.4});
  g.selectAll('line.eg').data(qGX).join('line').attr('x1', d=>x(d)).attr('x2', d=>x(d))
    .attr('y1', (d,i)=>y(QGX[i]-errGX[i])).attr('y2', (d,i)=>y(QGX[i]+errGX[i]))
    .attr('stroke', '#000').attr('stroke-width', 1.8);
  linAxes(bx, x, y, aXTicks, aYTicks, d3.format('.1f'), d => String(d));
  rich(txt(x(7.55) + 4, 30, 'start', 22).attr('fill', '#3a9e3a'),
    [['\u223C ', 'g'], ['q', 'i'], [' + ', ''], ['q', 'i'], ['0', 'b']], 22).selectAll('tspan').attr('fill', '#3a9e3a');
  // legend
  legendBox(158.7, 207.3, 204.6, 66);
  const L = svg.append('g');
  [[222.7, 'o', 'stella (', '10.4)'], [254, 'x', 'GX (', '13.9)']].forEach(([yy, m, a, b]) => {
    L.append('line').attr('x1', 165).attr('x2', 207).attr('y1', yy).attr('y2', yy).attr('stroke', '#000').attr('stroke-width', 2);
    L.append('line').attr('x1', 186).attr('x2', 186).attr('y1', yy - 9).attr('y2', yy + 9).attr('stroke', '#000').attr('stroke-width', 1.8);
    if(m === 'o') L.append('circle').attr('cx', 186).attr('cy', yy).attr('r', 5);
    else L.append('path').attr('transform', `translate(186,${yy})`).attr('d', xMark(4)).attr('stroke', '#000').attr('stroke-width', 1.4);
    rich(txt(222, yy + 7, 'start', LEG), [[a, ''], ['\u03BA', 'ig'], [' = ' + b, '']], LEG);
  });
  rich(txt(x(5), 335, 'middle', LAB), [['q', 'i']], LAB);
  rich(txt(27, (bx.t + bx.b) / 2, 'middle', LAB, true), [['Q', 'i'], ['/', ''], ['Q', 'i'], ['gB', 'b']], LAB);
})();

// ---------- (b) ----------
(function(){
  const bx = boxes.b;
  const x = d3.scaleLinear().domain([0, 10]).range([bx.l, bx.r]);
  const y = d3.scaleLinear().domain([-0.154, 1.0547]).range([bx.b, bx.t]);
  linFrame(bx, x, y, bXTicks, bYTicks);
  const g = clip('clipB', bx);
  const DASH = '5,2.5';
  const list = [
    [zip(bX33, bGxPeach), {c:C.peach, m:'x', s:2.6}],
    [zip(bX05, bGxRed), {c:C.red, m:'x', s:2.6}],
    [zip(bX05, bGxCrimson), {c:C.crimson2, m:'x', s:2.6}],
    [zip(bX05, bStNavy), {c:C.navy2, m:'o', r:3.6, dash:DASH}],
    [zip(bStCrimsonX, bStCrimson), {c:C.crimson, m:'o', r:4, dash:DASH}],
    [zip(bX05, bStDark2), {c:C.dark2, m:'o', r:3.6, dash:DASH}],
    [zip(bStSteelX, bStSteel), {c:C.steel2, m:'o', r:4, dash:DASH}],
    [zip(bX33, bGxTeal), {c:C.teal, m:'x', s:2.6}],
    [zip(bX33, bGxMint), {c:C.mint, m:'x', s:2.6}],
    [zip(bX33, bGxNavy), {c:C.navy, m:'x', s:2.6}],
    [zip(bStDarkX, bStDark), {c:C.dark, m:'o', r:4, dash:DASH}],
    [zip(bX05, bGxDark), {c:C.dark2, m:'x', s:2.6}]
  ];
  list.forEach(([p, s]) => drawSeries(g, x, y, p, s));
  linAxes(bx, x, y, bXTicks, bYTicks, d3.format('.1f'), d3.format('.2f'));
  legendBox(555.7, 20.7, 222, 96.6);
  [[36.7, C.dark2, 0], [68.3, C.peach, 1], [98.3, C.mint, 2]].forEach(([yy, col, i]) => {
    svg.append('line').attr('x1', 563).attr('x2', 604).attr('y1', yy).attr('y2', yy).attr('stroke', col).attr('stroke-width', 1.4);
    svg.append('path').attr('transform', `translate(583.5,${yy})`).attr('d', xMark(3)).attr('stroke', col).attr('stroke-width', 1.2);
    rich(txt(620, yy + 7, 'start', LEG), [['(', ''], ['q', 'i'], [', ', ''], ['\u03BA', 'ig'], [') = ' + bLegend[i], '']], LEG);
  });
  rich(txt(x(5), 335, 'middle', LAB), [['\u0394', 'g'], ['x', 'i'], ['/', ''], ['q', 'i'], ['\u03C1', 'ig'], ['i', 'ib']], LAB);
  rich(txt(436, (bx.t + bx.b) / 2, 'middle', LAB, true), [['\uD835\uDC9E', 'g'], ['(', ''], ['\u0394', 'g'], ['x', 'i'], [')', '']], LAB);
})();

// ---------- (c) ----------
(function(){
  const bx = boxes.c;
  const x = d3.scaleLinear().domain([0, 3]).range([bx.l, bx.r]);
  const y = d3.scaleLinear().domain([-0.463, 1.069]).range([bx.b, bx.t]);
  linFrame(bx, x, y, cXTicks, cYTicks);
  const g = clip('clipC', bx);
  const DASH = '5,2.5';
  const list = [
    [cPeachGx, {c:C.peach, w:7, band:1, op:0.9, m:'x', s:3, mc:'#f9c2a4'}],
    [cOrangeGx, {c:C.orange, w:5, band:1, op:0.85, m:'x', s:3}],
    [cRedGx, {c:C.red, w:3.5, band:1, m:'x', s:2.8}],
    [cPlumGx, {c:C.plum, w:2.5, band:1, m:'x', s:2.6}],
    [cCrimsonSt, {c:C.crimson, m:'o', r:4.2, dash:DASH}],
    [cDarkSt1, {c:C.dark, m:'o', r:4.2, dash:DASH}],
    [cDarkSt2, {c:C.dark2, m:'o', r:4.2, dash:DASH}],
    [cDarkGx, {c:C.dark, w:1.5, m:'x', s:2.6}],
    [cNavySt, {c:C.navy2, m:'o', r:4.2, dash:DASH}],
    [cSteelSt, {c:C.steel2, m:'o', r:4.4, dash:DASH}],
    [cNavy, {c:C.navy, w:6, band:1, op:0.8, m:'x', s:3.4}],
    [cTeal2, {c:C.teal2, w:5, band:1, m:'x', s:3}],
    [cMint, {c:C.mint, w:8.5, band:1, m:'x', s:3.5}],
    [cTeal, {c:C.teal, w:6.5, band:1, m:'x', s:3.2}]
  ];
  list.forEach(([v, s]) => drawSeries(g, x, y, zip(cX, v), s));
  linAxes(bx, x, y, cXTicks, cYTicks, d => String(d), d3.format('.1f'));
  rich(txt(x(1.5), 335, 'middle', LAB), [['\u0394', 'g'], ['y', 'i'], ['/', ''], ['q', 'i'], ['\u03BA\u03C1', 'ig'], ['i', 'ib']], LAB);
  rich(txt(861, (bx.t + bx.b) / 2, 'middle', LAB, true), [['\uD835\uDC9E', 'g'], ['(', ''], ['\u0394', 'g'], ['y', 'i'], [')', '']], LAB);
})();

// ---------- (d) ----------
(function(){
  const bx = boxes.d;
  const x = d3.scaleLog().domain([0.05, 20]).range([bx.l, bx.r]);
  const y = d3.scaleLog().domain([0.1, 1]).range([bx.b, bx.t]);
  logFrame(bx, x);
  const g = clip('clipD', bx);
  const DASH = '5,2.5';
  const list = [
    [dPeach2Gx, {c:C.peach2, m:'x', s:3.2}],
    [dPeachGx, {c:C.peach, m:'x', s:3.2}],
    [dOrangeGx, {c:C.salmon, m:'x', s:3.2}],
    [dRedGx, {c:C.red, m:'x', s:3.2}],
    [dDarkSt, {c:C.dark, m:'o', r:4.8, dash:DASH}],
    [dPlumSt, {c:C.plum, m:'o', r:4.8, dash:DASH}],
    [dCrimsonSt, {c:C.crimson, m:'o', r:5, dash:DASH}],
    [dCrimson2St, {c:C.crimson, m:'o', r:5.2, dash:DASH}],
    [dCrimsonGx, {c:C.crimson2, m:'x', s:3.2}],
    [dDarkGx, {c:C.dark, m:'x', s:3.2}],
    [dDark2St, {c:C.dark, m:'o', r:4.8, dash:DASH}],
    [dNavySt, {c:C.navy2, m:'o', r:4.8, dash:DASH}],
    [dNavy2St, {c:C.navy2, m:'o', r:4.8, dash:DASH}],
    [dNavyGx, {c:C.navy, m:'x', s:3.2}],
    [dNavyTail, {c:C.navy, m:'x', s:3.4, noLine:1}],
    [dSteelSt, {c:C.steel2, m:'o', r:5, dash:DASH}],
    [dSteelGx, {c:C.steel, m:'x', s:3.2}],
    [dSteel2Gx, {c:C.steel, m:'x', s:3.2}],
    [dTealSt, {c:C.teal, m:'o', r:4.8, dash:DASH}],
    [dMint3Dash, {c:C.mint, w:1.6, dash:DASH}],
    [dTeal3Dash, {c:C.teal2, w:1.6, dash:DASH}],
    [dMintSt, {c:C.mint, m:'o', r:5, dash:DASH}],
    [dMint2St, {c:'#7ad8b4', m:'o', r:5.2, dash:DASH}],
    [dTeal2Gx, {c:C.teal, m:'x', s:3.2}],
    [dTealGx, {c:C.teal, m:'x', s:3.2}],
    [dMintGx, {c:C.mint, m:'x', s:3.2}]
  ];
  list.forEach(([p, s]) => drawSeries(g, x, y, p, s));
  logAxes(bx, x, y);
  rich(txt((bx.l + bx.r) / 2, 701, 'middle', LAB), [['k', 'i'], ['x', 'ib'], ['\u03C1', 'ig'], ['i', 'ib'], ['q', 'i']], LAB);
  rich(txt(91, (bx.t + bx.b) / 2, 'middle', LAB, true), [['(', ''], ['\u0394', 'go'], ['\u03B8', 'igo'], [')', ''], ['k', 'ib'], ['x', 'iq']], LAB);
})();

// ---------- (e) ----------
(function(){
  const bx = boxes.e;
  const x = d3.scaleLog().domain([0.02, 50]).range([bx.l, bx.r]);
  const y = d3.scaleLog().domain([0.1, 1]).range([bx.b, bx.t]);
  logFrame(bx, x);
  const g = clip('clipE', bx);
  const DASH = '5,2.5';
  const list = [
    [ePeach2Gx, {c:C.peach2, m:'x', s:3.2}],
    [ePeachGx, {c:C.peach, m:'x', s:3.2}],
    [eSalmonGx, {c:C.salmon, m:'x', s:3.2}],
    [eOrangeGx, {c:C.orange, m:'x', s:3.2}],
    [eRedSt, {c:C.red, m:'o', r:4.6, dash:DASH}],
    [eCrimsonSt, {c:C.crimson, m:'o', r:4.6, dash:DASH}],
    [eCrimsonGx, {c:C.crimson2, m:'x', s:3.2}],
    [eDarkSt, {c:C.dark, m:'o', r:4.6, dash:DASH}],
    [eDark2St, {c:C.dark2, m:'o', r:4.6, dash:DASH}],
    [ePlumGx, {c:C.plum, m:'x', s:3.2}],
    [eDarkGx, {c:C.dark, m:'x', s:3.2}],
    [eDark2Gx, {c:C.dark2, m:'x', s:3.2}],
    [eNavySt, {c:C.navy2, m:'o', r:4.6, dash:DASH}],
    [eNavyGx, {c:C.navy, m:'x', s:3.2}],
    [eSteelGx, {c:C.steel, m:'x', s:3.2}],
    [eSteelSt, {c:C.steel2, m:'o', r:4.6, dash:DASH}],
    [eTealSt, {c:C.teal, m:'o', r:4.6, dash:DASH}],
    [eMintSt, {c:C.mint, m:'o', r:4.6, dash:DASH}],
    [eTealGx, {c:C.teal, m:'x', s:3.2}],
    [eMintGx, {c:C.mint, m:'x', s:3.2}]
  ];
  list.forEach(([p, s]) => drawSeries(g, x, y, p, s));
  logAxes(bx, x, y);
  rich(txt((bx.l + bx.r) / 2, 701, 'middle', LAB), [['k', 'i'], ['y', 'ib'], ['\u03C1', 'ig'], ['i', 'ib'], ['q', 'i'], ['\u03BA', 'ig']], LAB);
  rich(txt(703, (bx.t + bx.b) / 2, 'middle', LAB, true), [['(', ''], ['\u0394', 'go'], ['\u03B8', 'igo'], [')', ''], ['k', 'ib'], ['y', 'iq']], LAB);
})();

// ---------- captions ----------
const captions = [
  [199, 377, [['(a) Normalised heat flux', '']]],
  [613, 377, [['(b) Radial correlation function', '']]],
  [1028, 377, [['(c) Binormal correlation function', '']]],
  [309, 741, [['(d) Parallel correlation length as a function of ', ''], ['k', 'i'], ['x', 'ib']]],
  [920, 741, [['(e) Parallel correlation length as a function of ', ''], ['k', 'i'], ['y', 'ib']]]
];
captions.forEach(([cx, cy, parts]) => rich(txt(cx, cy, 'middle', CAP), parts, CAP));
</script>
</body></html>
